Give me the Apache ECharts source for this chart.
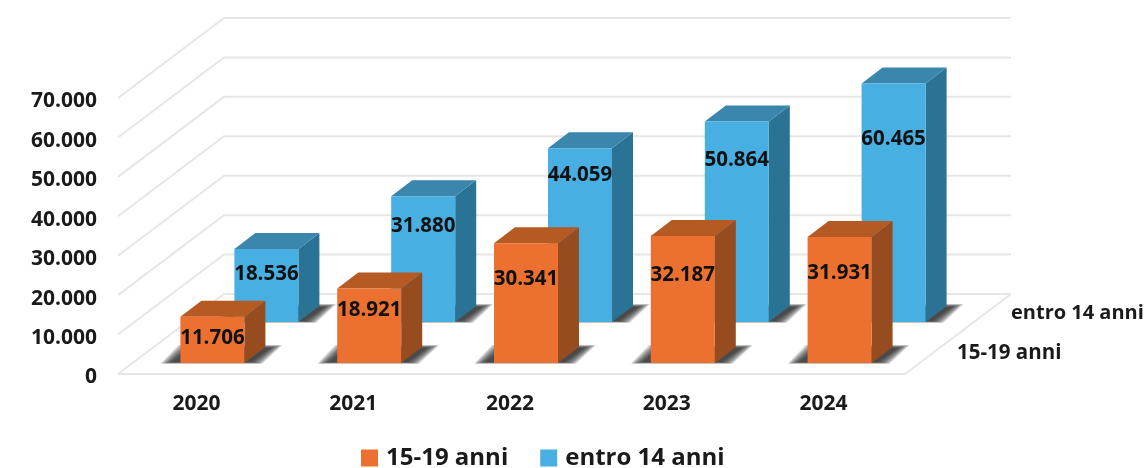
<!DOCTYPE html>
<html lang="it">

<head>
  <meta charset="UTF-8">
  <title>15-19 anni / entro 14 anni</title>
  <style>
    html, body { margin: 0; background: #fff; }
    #main { width: 1148px; height: 468px; }
  </style>
  <script src="https://cdn.jsdelivr.net/npm/echarts@6/dist/echarts.min.js"></script>
</head>

<body>
  <div id="main"></div>
  <script>
    var years = ['2020', '2021', '2022', '2023', '2024'];
    var teens = [11706, 18921, 30341, 32187, 31931];
    var kids = [18536, 31880, 44059, 50864, 60465];
    var yTicks = [0, 10000, 20000, 30000, 40000, 50000, 60000, 70000];
    var teensName = '15-19 anni';
    var kidsName = 'entro 14 anni';

    // how far below the top of the bar each label sits, the original was placed by hand
    var teensLabelDrop = [21, 22, 36, 39, 36];
    var kidsLabelDrop = [25, 30, 27, 39, 56];

    var FONT = '"Open Sans", sans-serif';
    var WALL = '#e6e6e6';
    var DEPTH = [106, -80];   // front plane -> back wall
    var FLOOR_PAD = 3;        // floor runs a little past the last category

    function fmt(v) {
      return String(v).replace(/\B(?=(\d{3})+$)/g, '.');
    }

    // soft floor shadow, stacked see-through polygons from wide to narrow
    function floorShadow(x0, x1, y0) {
      var out = [];
      for (var e = 10; e >= 0; e--) {
        var ex = e * 1.2, ey = e * 0.3;
        out.push({
          type: 'polygon',
          shape: {
            points: [
              [x0 - 8 - ex, y0 - 1 + ey * 0.6],
              [x1 + 6 + ex, y0 - 1 + ey * 0.6],
              [x1 + 26 + ex, y0 - 15 - ey],
              [x0 + 10 - ex, y0 - 15 - ey]
            ]
          },
          style: { fill: 'rgba(40,40,40,0.15)' }
        });
      }
      return out;
    }

    function barRenderer(row, colors, drops) {
      return function (params, api) {
        var i = api.value(0);
        var base = api.coord([i, 0]);
        var top = api.coord([i, api.value(1)]);
        var w = 64;
        var x0 = base[0] + row[0] - w / 2;
        var x1 = x0 + w;
        var y0 = base[1] + row[1];
        var y1 = top[1] + row[1];
        var dx = 21, dy = -16;
        return {
          type: 'group',
          children: floorShadow(x0, x1, y0).concat([
            {
              type: 'polygon',
              shape: { points: [[x1, y1], [x1 + dx, y1 + dy], [x1 + dx, y0 + dy], [x1, y0]] },
              style: { fill: colors[2] }
            },
            {
              type: 'polygon',
              shape: { points: [[x0, y1], [x0 + dx, y1 + dy], [x1 + dx, y1 + dy], [x1, y1]] },
              style: { fill: colors[1] }
            },
            {
              type: 'rect',
              shape: { x: x0, y: y1, width: w, height: y0 - y1 },
              style: { fill: colors[0] }
            },
            {
              type: 'text',
              z2: 10,
              style: {
                x: (x0 + x1) / 2,
                y: y1 + drops[i],
                text: fmt(api.value(1)),
                align: 'center',
                verticalAlign: 'middle',
                fill: '#111',
                font: 'bold 20.5px ' + FONT
              }
            }
          ])
        };
      };
    }

    function wallRenderer(params, api) {
      var g = params.coordSys;
      var y = api.coord([0, api.value(1)])[1];
      var right = g.x + g.width + FLOOR_PAD;
      var children = [{
        type: 'polyline',
        shape: {
          points: [[g.x, y], [g.x + DEPTH[0], y + DEPTH[1]], [right + DEPTH[0], y + DEPTH[1]]]
        },
        style: { fill: 'none', stroke: WALL, lineWidth: 2 }
      }];
      if (api.value(1) === 0) { // floor outline
        children.push({
          type: 'polyline',
          shape: {
            points: [[g.x, y], [right, y], [right + DEPTH[0], y + DEPTH[1]]]
          },
          style: { fill: 'none', stroke: WALL, lineWidth: 2 }
        });
      }
      return { type: 'group', children: children };
    }

    var myChart = echarts.init(document.getElementById('main'));
    var option = {
      animation: false,
      backgroundColor: '#fff',
      grid: { left: 118, top: 98, width: 784, height: 276 },
      legend: {
        data: [teensName, kidsName],
        left: 361,
        top: 446,
        padding: 0,
        icon: 'rect',
        itemWidth: 17,
        itemHeight: 17,
        itemGap: 32,
        textStyle: { fontFamily: FONT, fontWeight: 'bold', fontSize: 24, color: '#1a1a1a', padding: [0, 0, 0, 3] }
      },
      xAxis: {
        type: 'category',
        data: years,
        axisLine: { show: false },
        axisTick: { show: false },
        axisLabel: { margin: 20, fontFamily: FONT, fontWeight: 'bold', fontSize: 21, color: '#1a1a1a' }
      },
      yAxis: {
        type: 'value',
        min: 0,
        max: 70000,
        interval: 10000,
        axisLine: { show: false },
        axisTick: { show: false },
        splitLine: { show: false },
        axisLabel: {
          margin: 21,
          verticalAlign: 'bottom',
          lineHeight: 21,
          padding: [0, 0, -14, 0],   // nudges the labels a bit under their tick
          fontFamily: FONT,
          fontWeight: 'bold',
          fontSize: 21,
          color: '#1a1a1a',
          formatter: fmt
        }
      },
      graphic: [
        { type: 'text', left: 1011, top: 303, style: { text: kidsName, font: 'bold 20px ' + FONT, fill: '#1a1a1a' } },
        { type: 'text', left: 957, top: 343, style: { text: teensName, font: 'bold 20.5px ' + FONT, fill: '#1a1a1a' } }
      ],
      series: [
        {
          name: 'wall',
          type: 'custom',
          renderItem: wallRenderer,
          data: yTicks.map(function (t) { return [0, t]; }),
          silent: true,
          z: 1
        },
        {
          name: kidsName,
          type: 'custom',
          renderItem: barRenderer([70, -52], ['#47afe2', '#3a86ad', '#2b7394'], kidsLabelDrop),
          itemStyle: { color: '#47afe2' },
          data: kids.map(function (v, i) { return [i, v]; }),
          z: 2
        },
        {
          name: teensName,
          type: 'custom',
          renderItem: barRenderer([16, -11], ['#ec7130', '#b45a22', '#964c1f'], teensLabelDrop),
          itemStyle: { color: '#ec7130' },
          data: teens.map(function (v, i) { return [i, v]; }),
          z: 3
        }
      ]
    };
    myChart.setOption(option);
  </script>
</body>

</html>
